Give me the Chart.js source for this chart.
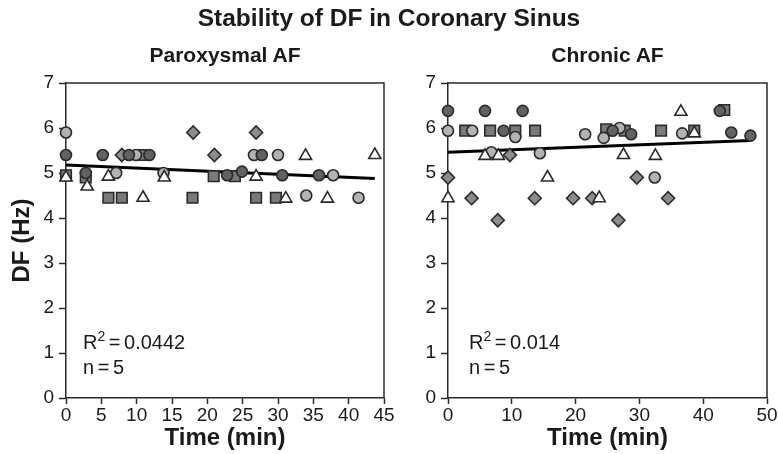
<!DOCTYPE html>
<html><head><meta charset="utf-8">
<script src="https://cdn.jsdelivr.net/npm/chart.js@4.4.1/dist/chart.umd.min.js"></script>
<style>
body{margin:0;background:#fff;width:778px;height:454px;overflow:hidden;position:relative;font-family:"Liberation Sans",Arial,Helvetica,sans-serif;color:#1a1a1a}
canvas{position:absolute;top:0}
.t{position:absolute;white-space:nowrap;font-weight:bold;z-index:2}
.a{position:absolute;white-space:nowrap;font-size:20px;line-height:23px;z-index:2;word-spacing:-2px}
.a span{font-size:14px;position:relative;top:-8px}
</style></head><body>
<canvas id="c1" width="400" height="454" style="left:0"></canvas>
<canvas id="c2" width="378" height="454" style="left:400px"></canvas>
<div class="t" style="left:0;width:778px;text-align:center;top:4px;font-size:24.5px;">Stability of DF in Coronary Sinus</div>
<div class="t" style="left:66px;width:318px;text-align:center;top:43px;font-size:21px">Paroxysmal AF</div>
<div class="t" style="left:448px;width:319px;text-align:center;top:43px;font-size:21px">Chronic AF</div>
<div class="a" style="left:83px;top:331px">R<span>2</span> = 0.0442<br>n = 5</div>
<div class="a" style="left:469px;top:331px">R<span>2</span> = 0.014<br>n = 5</div>
<script>
// ---- Paroxysmal AF (time in min, DF in Hz) ----
const parLightX = [0, 7.1, 9.9, 13.8, 26.6, 30.0, 34.0, 37.8, 41.4];
const parLightY = [5.9, 5.0, 5.4, 5.0, 5.4, 5.4, 4.5, 4.95, 4.45];
const parDarkX = [0, 2.8, 5.2, 8.9, 11.8, 22.8, 24.9, 27.7, 30.6, 35.8];
const parDarkY = [5.4, 5.0, 5.4, 5.4, 5.4, 4.95, 5.03, 5.4, 4.95, 4.95];
const parSquareX = [0, 2.8, 6.0, 7.9, 10.8, 17.9, 20.9, 23.9, 26.9, 29.7];
const parSquareY = [4.95, 4.9, 4.45, 4.45, 5.4, 4.45, 4.93, 4.93, 4.45, 4.45];
const parDiamondX = [7.9, 18.0, 21.0, 26.9];
const parDiamondY = [5.4, 5.9, 5.4, 5.9];
const parTriangleX = [0, 3.0, 6.0, 10.9, 13.9, 26.9, 31.1, 33.9, 37.0, 43.7];
const parTriangleY = [4.9, 4.7, 4.92, 4.45, 4.9, 4.92, 4.43, 5.38, 4.43, 5.4];
const parTrendX = [0, 43.7];
const parTrendY = [5.18, 4.88];
// ---- Chronic AF ----
const chrLightX = [0, 3.8, 6.8, 10.55, 14.4, 21.5, 24.4, 26.9, 32.4, 36.7];
const chrLightY = [5.94, 5.94, 5.46, 5.8, 5.44, 5.86, 5.78, 6.0, 4.9, 5.88];
const chrDarkX = [0, 5.8, 8.7, 11.7, 25.8, 28.7, 42.6, 44.4, 47.4];
const chrDarkY = [6.38, 6.38, 5.94, 6.38, 5.94, 5.86, 6.38, 5.9, 5.83];
const chrSquareX = [2.7, 6.6, 10.55, 13.65, 24.8, 27.7, 33.4, 38.6, 43.3];
const chrSquareY = [5.94, 5.94, 5.94, 5.94, 5.97, 5.94, 5.94, 5.94, 6.4];
const chrDiamondX = [0, 3.7, 7.8, 9.7, 13.6, 19.6, 22.6, 26.7, 29.6, 34.5];
const chrDiamondY = [4.9, 4.44, 3.95, 5.4, 4.44, 4.44, 4.44, 3.95, 4.9, 4.44];
const chrTriangleX = [0, 5.8, 7.9, 15.6, 23.7, 27.5, 32.5, 36.5, 38.6];
const chrTriangleY = [4.44, 5.38, 5.38, 4.9, 4.44, 5.4, 5.38, 6.36, 5.88];
const chrTrendX = [0, 47.4];
const chrTrendY = [5.46, 5.72];

const FONT = '"Liberation Sans", Arial, Helvetica, sans-serif';
const INK = '#1a1a1a';
const EDGE = '#2a2a2a';

function pts(xs, ys) { return xs.map((x, i) => ({x: x, y: ys[i]})); }
function markers(label, xs, ys, style, fill, r) {
  return {type: 'scatter', label: label, data: pts(xs, ys), pointStyle: style,
    pointRadius: r, pointHoverRadius: r, backgroundColor: fill, borderColor: EDGE,
    borderWidth: 1.6, pointBorderWidth: 1.6, clip: false};
}
function trend(xs, ys) {
  return {type: 'line', label: 'fit', data: pts(xs, ys), borderColor: '#000',
    borderWidth: 3, pointRadius: 0, fill: false, clip: false};
}
const boxPlugin = {id: 'box', beforeDatasetsDraw(chart) {
  const ctx = chart.ctx, a = chart.chartArea;
  ctx.save(); ctx.strokeStyle = EDGE; ctx.lineWidth = 1.5;
  ctx.beginPath(); ctx.moveTo(a.left, a.top); ctx.lineTo(a.right, a.top); ctx.lineTo(a.right, a.bottom);
  ctx.stroke(); ctx.restore();
}};
function scales(xMax, xStep, yWidth, yTitle) {
  return {
    x: {type: 'linear', min: 0, max: xMax,
      ticks: {stepSize: xStep, color: INK, font: {family: FONT, size: 19}, padding: 0, maxRotation: 0, autoSkip: false},
      grid: {display: true, drawOnChartArea: false, drawTicks: true, tickLength: 6, tickColor: EDGE, tickWidth: 1.5},
      border: {display: true, color: EDGE, width: 1.5},
      title: {display: true, text: 'Time (min)', color: INK, font: {family: FONT, size: 24, weight: 'bold', lineHeight: 1.2}, padding: {top: 0, bottom: 1}},
      afterFit(s) { s.height = 56; }},
    y: {type: 'linear', min: 0, max: 7,
      ticks: {stepSize: 1, color: INK, font: {family: FONT, size: 19}, padding: 5},
      grid: {display: true, drawOnChartArea: false, drawTicks: true, tickLength: 7, tickColor: EDGE, tickWidth: 1.5},
      border: {display: true, color: EDGE, width: 1.5},
      title: {display: yTitle, text: 'DF (Hz)', color: INK, font: {family: FONT, size: 24, weight: 'bold', lineHeight: 1.2}, padding: {top: 8, bottom: 0}},
      afterFit(s) { s.width = yWidth; }}
  };
}
function build(id, sets, xMax, xStep, yWidth, yTitle, padRight) {
  return new Chart(document.getElementById(id), {
    type: 'scatter',
    data: {datasets: sets},
    options: {responsive: false, animation: false, devicePixelRatio: 1,
      layout: {padding: {top: 83, right: padRight, bottom: 0, left: 0}},
      plugins: {legend: {display: false}, tooltip: {enabled: false}},
      scales: scales(xMax, xStep, yWidth, yTitle)},
    plugins: [boxPlugin]
  });
}
const LIGHT = '#b3b3b3', DARK = '#626262', SQ = '#7a7a7a', DIA = '#8c8c8c', TRI = '#ffffff';
build('c1', [
  markers('Patient 5', parTriangleX, parTriangleY, 'triangle', TRI, 7),
  markers('Patient 2', parDarkX, parDarkY, 'circle', DARK, 5.5),
  markers('Patient 1', parLightX, parLightY, 'circle', LIGHT, 5.5),
  markers('Patient 4', parDiamondX, parDiamondY, 'rectRot', DIA, 6.5),
  markers('Patient 3', parSquareX, parSquareY, 'rect', SQ, 7.5),
  trend(parTrendX, parTrendY)
], 45, 5, 66, true, 16);
build('c2', [
  markers('Patient 5', chrTriangleX, chrTriangleY, 'triangle', TRI, 7),
  markers('Patient 2', chrDarkX, chrDarkY, 'circle', DARK, 5.5),
  markers('Patient 1', chrLightX, chrLightY, 'circle', LIGHT, 5.5),
  markers('Patient 4', chrDiamondX, chrDiamondY, 'rectRot', DIA, 6.5),
  markers('Patient 3', chrSquareX, chrSquareY, 'rect', SQ, 7.5),
  trend(chrTrendX, chrTrendY)
], 50, 10, 48, false, 11);
</script>
</body></html>
